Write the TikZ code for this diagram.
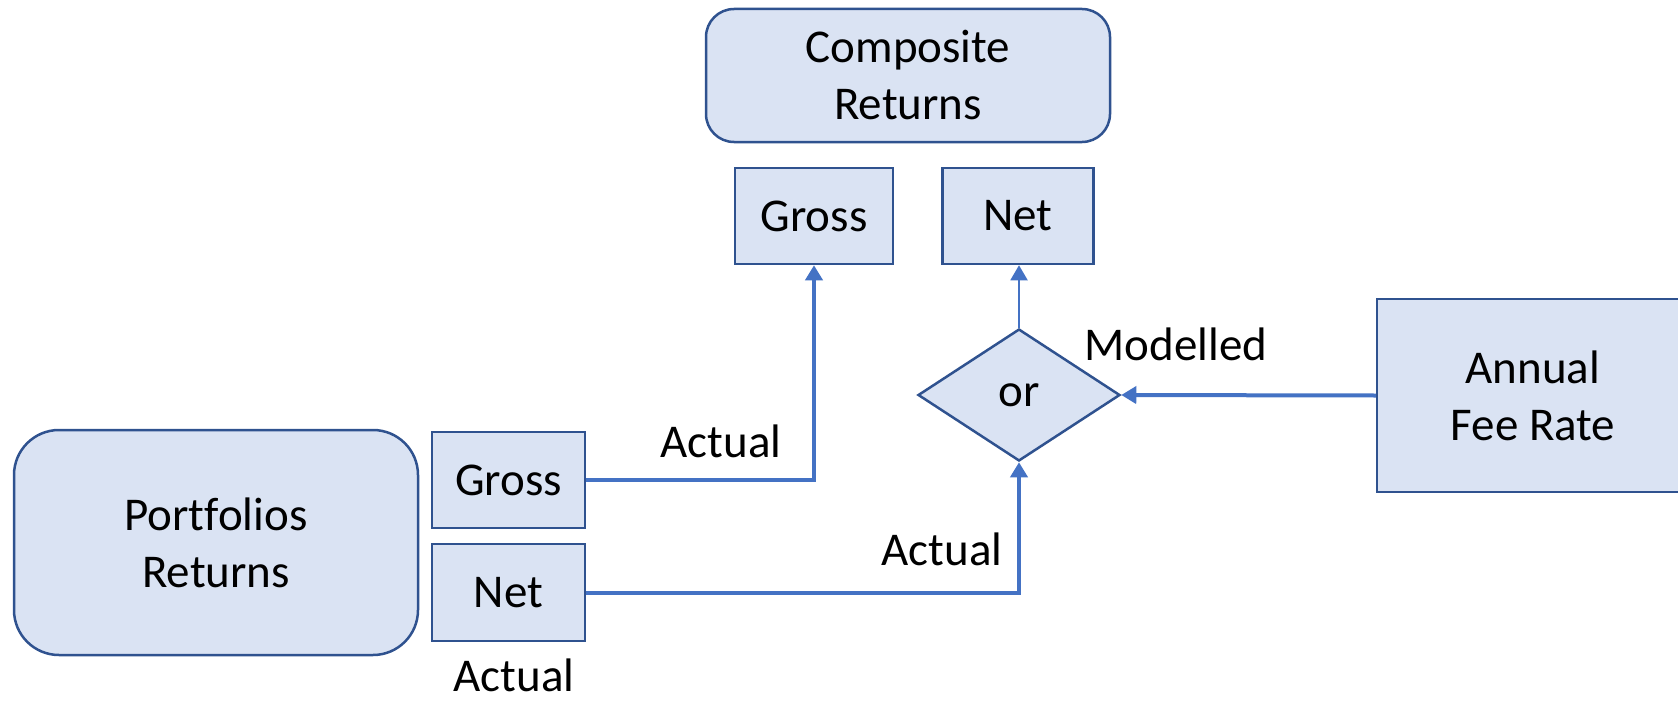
\documentclass[tikz,border=0pt]{standalone}
\usepackage{fontspec}
\setmainfont{Carlito}[Ligatures=NoCommon]
\usetikzlibrary{shapes.geometric,arrows.meta}
\definecolor{boxfill}{HTML}{DAE3F3}
\definecolor{boxline}{HTML}{2F528F}
\definecolor{connc}{HTML}{4472C4}
\begin{document}
\begin{tikzpicture}[x=1pt,y=-1pt,
  font=\fontsize{47}{57}\selectfont,
  box/.style={draw=boxline, fill=boxfill, line width=2.5pt, align=center, inner sep=0pt},
  rbox/.style={box, rounded corners=#1},
  dia/.style={box, diamond, aspect=1.53},
  connector/.style={draw=connc, line width=4pt, -{Triangle[width=17pt,length=15pt]}},
  thinconnector/.style={connector, line width=2pt},
  lbl/.style={inner sep=0pt}]
\useasboundingbox (0,0) rectangle (1678,701);
\clip (0,0) rectangle (1678,701);
% boxes
\node[rbox=28pt, minimum width=404pt, minimum height=133pt] (comp) at (908,75.5) {Composite\\Returns};
\node[box, minimum width=158pt, minimum height=96pt] (gt) at (814,216) {Gross};
\node[box, minimum width=151pt, minimum height=96pt] (nt) at (1018,216) {Net};
\node[dia, minimum width=202pt, minimum height=132pt] (or) at (1019,395) {or};
\node[box, minimum width=312pt, minimum height=193pt] (fee) at (1533,395.5) {Annual\\Fee Rate};
\node[rbox=45pt, minimum width=404pt, minimum height=225pt] (port) at (216,542.5) {Portfolios\\Returns};
\node[box, minimum width=153pt, minimum height=96pt] (gb) at (508.5,480) {Gross};
\node[box, minimum width=153pt, minimum height=97pt] (nb) at (508.5,592.5) {Net};
% labels
\node[lbl] (a1) at (721,441) {Actual};
\node[lbl] (a2) at (942,549) {Actual};
\node[lbl] (a3) at (514,675) {Actual};
\node[lbl] (mod) at (1176,344) {Modelled};
% connectors
\draw[connector] (gb.east) -| (gt.south);
\draw[connector] (nb.east) -| (or.south);
\draw[connector] (fee.west) -- (or.east);
\draw[thinconnector] (or.north) -- (or.north |- nt.south);
\end{tikzpicture}
\end{document}
